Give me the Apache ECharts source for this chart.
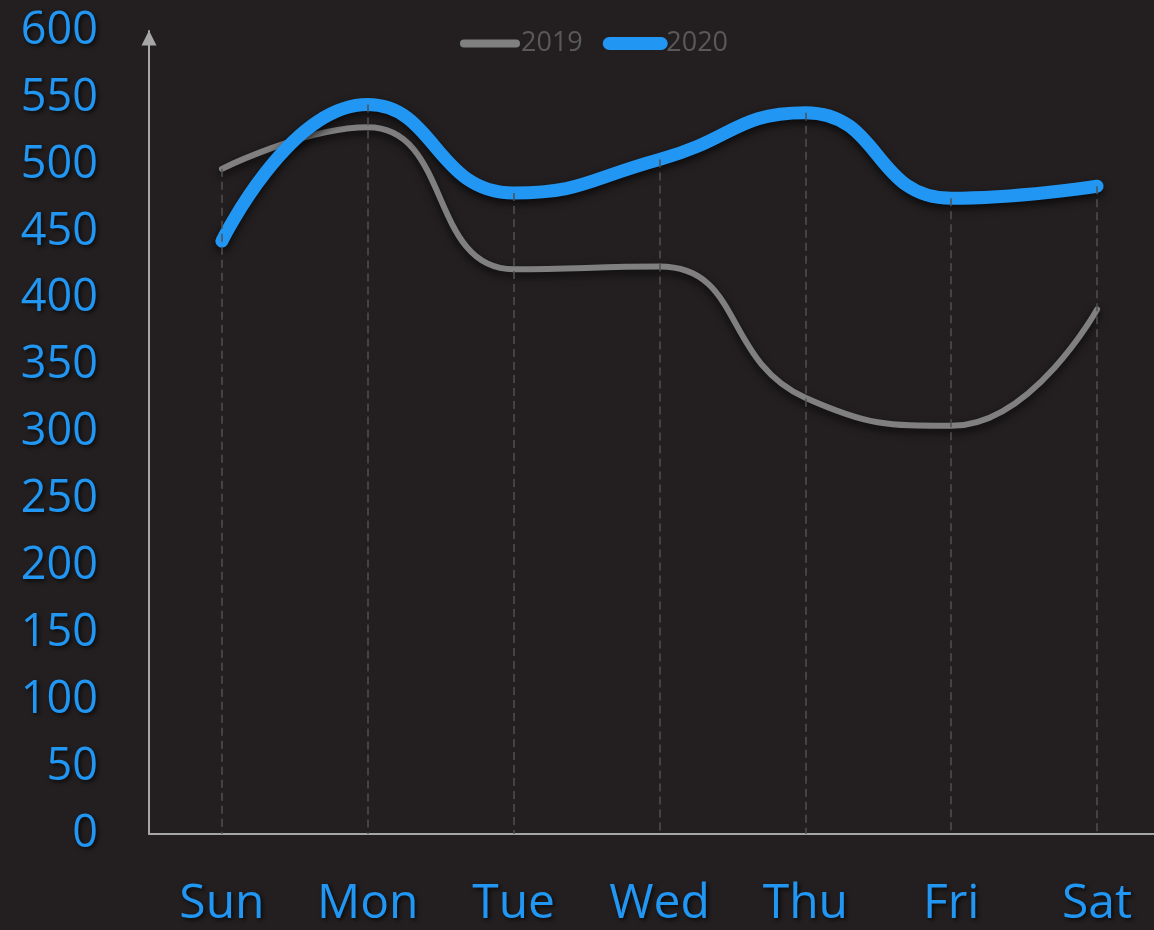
<!DOCTYPE html>
<html>
<head>
<meta charset="utf-8">
<script src="https://cdn.jsdelivr.net/npm/echarts@6/dist/echarts.min.js"></script>
<style>
  html, body { margin: 0; padding: 0; background: #231f20; }
  #chart { width: 1154px; height: 930px; }
</style>
</head>
<body>
<div id="chart"></div>
<script>
// 数据
var categories = ['Sun', 'Mon', 'Tue', 'Wed', 'Thu', 'Fri', 'Sat'];
var sales2019 = [497, 528, 422, 424, 326, 305, 392];
var sales2020 = [443, 545, 479, 504, 539, 475, 484];

var blue = '#2196f3';
var gray = '#808080';
var axisColor = '#a6a6a6';

var textShadow = {
  textShadowColor: 'rgba(0,0,0,0.75)',
  textShadowBlur: 4,
  textShadowOffsetX: 2,
  textShadowOffsetY: 2
};

// 垂线（从较高的点落到x轴）
var dropLines = categories.map(function (c, i) {
  return [
    { coord: [c, Math.max(sales2019[i], sales2020[i])] },
    { coord: [c, 0] }
  ];
});

var chart = echarts.init(document.getElementById('chart'));

var option = {
  backgroundColor: '#231f20',
  animation: false,
  legend: {
    left: 455,
    top: 25,
    itemWidth: 52,
    itemHeight: 14,
    itemGap: 20,
    textStyle: {
      color: '#595959',
      fontSize: 27,
      fontFamily: 'Open Sans'
    },
    data: [
      {
        name: '2019',
        itemStyle: { opacity: 0 },
        lineStyle: { width: 8, cap: 'round', shadowBlur: 0, shadowColor: 'transparent' }
      },
      {
        name: '2020',
        itemStyle: { opacity: 0 },
        lineStyle: { width: 13, cap: 'round', shadowBlur: 0, shadowColor: 'transparent' }
      }
    ]
  },
  grid: {
    left: 149,
    top: 31,
    bottom: 96,
    width: 1021,
    outerBoundsMode: 'none',
    containLabel: false
  },
  xAxis: {
    type: 'category',
    data: categories,
    boundaryGap: true,
    axisLine: {
      symbol: ['none', 'triangle'],
      symbolSize: [15, 15],
      lineStyle: { color: axisColor, width: 2 }
    },
    axisTick: { show: false },
    axisLabel: Object.assign({
      color: blue,
      fontSize: 48,
      fontFamily: 'Open Sans',
      margin: 46
    }, textShadow),
    splitLine: { show: false }
  },
  yAxis: {
    type: 'value',
    min: 0,
    max: 600,
    interval: 50,
    axisLine: {
      show: true,
      symbol: ['none', 'triangle'],
      symbolSize: [15, 15],
      symbolOffset: [0, -7],
      lineStyle: { color: axisColor, width: 2 }
    },
    axisTick: { show: false },
    axisLabel: Object.assign({
      color: blue,
      fontSize: 45,
      fontFamily: 'Open Sans',
      margin: 51
    }, textShadow),
    splitLine: { show: false }
  },
  series: [
    {
      name: '2019',
      type: 'line',
      data: sales2019,
      smooth: 0.5,
      symbol: 'none',
      z: 2,
      lineStyle: {
        color: gray,
        width: 6,
        cap: 'round',
        shadowColor: 'rgba(0,0,0,0.7)',
        shadowBlur: 8,
        shadowOffsetY: 4
      },
      itemStyle: { color: gray }
    },
    {
      name: '2020',
      type: 'line',
      data: sales2020,
      smooth: 0.5,
      symbol: 'none',
      z: 3,
      lineStyle: {
        color: blue,
        width: 13,
        cap: 'round',
        shadowColor: 'rgba(0,0,0,0.7)',
        shadowBlur: 8,
        shadowOffsetY: 4
      },
      itemStyle: { color: blue },
      markLine: {
        silent: true,
        symbol: 'none',
        label: { show: false },
        lineStyle: {
          color: '#505050',
          width: 1.5,
          type: [8, 5]
        },
        data: dropLines
      }
    }
  ]
};

chart.setOption(option);
</script>
</body>
</html>
